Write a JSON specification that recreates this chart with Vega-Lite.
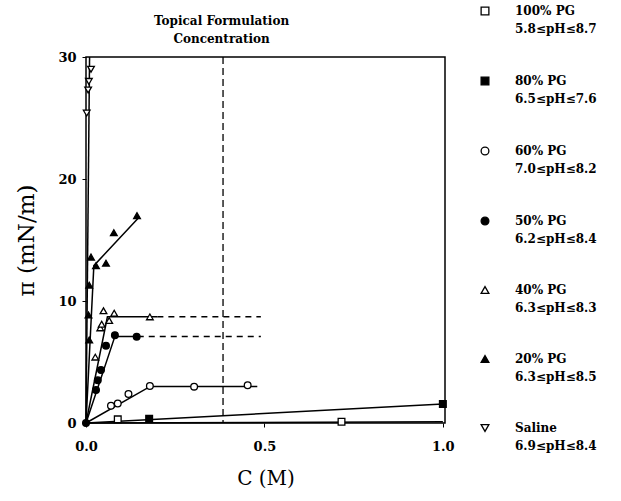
{
  "$schema": "https://vega.github.io/schema/vega-lite/v6.json",
  "width": 359,
  "height": 366,
  "padding": {"left": 15, "top": 5, "right": 5, "bottom": 5},
  "background": "white",
  "config": {
    "view": {"stroke": "black", "strokeWidth": 1.5},
    "font": "DejaVu Serif",
    "style": {"guide-label": {"lineHeight": 18}},
    "axis": {
      "grid": false,
      "domain": false,
      "ticks": true,
      "tickSize": 4,
      "tickColor": "black",
      "labelColor": "black",
      "labelFont": "DejaVu Serif",
      "labelFontWeight": "bold",
      "labelFontSize": 13,
      "labelFlush": false,
      "titleFont": "DejaVu Serif",
      "titleFontWeight": "normal",
      "titleColor": "black"
    },
    "legend": {
      "orient": "none",
      "legendX": 393,
      "legendY": -52,
      "labelFont": "DejaVu Serif",
      "labelFontWeight": "bold",
      "labelFontSize": 12,
      "labelColor": "black",
      "labelLimit": 0,
      "labelOffset": 24,
      "rowPadding": 39,
      "symbolSize": 60,
      "symbolStrokeWidth": 1.3
    }
  },
  "datasets": {
    "pts": [
      {"series": "100% PG, 5.8≤pH≤8.7", "x": 0.089, "y": 0.3},
      {"series": "100% PG, 5.8≤pH≤8.7", "x": 0.716, "y": 0.1},
      {"series": "80% PG, 6.5≤pH≤7.6", "x": 0.177, "y": 0.35},
      {"series": "80% PG, 6.5≤pH≤7.6", "x": 1.0, "y": 1.55},
      {"series": "60% PG, 7.0≤pH≤8.2", "x": 0.07, "y": 1.42},
      {"series": "60% PG, 7.0≤pH≤8.2", "x": 0.089, "y": 1.6},
      {"series": "60% PG, 7.0≤pH≤8.2", "x": 0.119, "y": 2.38},
      {"series": "60% PG, 7.0≤pH≤8.2", "x": 0.179, "y": 3.03},
      {"series": "60% PG, 7.0≤pH≤8.2", "x": 0.303, "y": 2.98},
      {"series": "60% PG, 7.0≤pH≤8.2", "x": 0.453, "y": 3.1},
      {"series": "50% PG, 6.2≤pH≤8.4", "x": 0.0, "y": 0.0},
      {"series": "50% PG, 6.2≤pH≤8.4", "x": 0.028, "y": 2.7},
      {"series": "50% PG, 6.2≤pH≤8.4", "x": 0.033, "y": 3.5},
      {"series": "50% PG, 6.2≤pH≤8.4", "x": 0.042, "y": 4.34},
      {"series": "50% PG, 6.2≤pH≤8.4", "x": 0.056, "y": 6.34},
      {"series": "50% PG, 6.2≤pH≤8.4", "x": 0.081, "y": 7.2},
      {"series": "50% PG, 6.2≤pH≤8.4", "x": 0.142, "y": 7.07},
      {"series": "40% PG, 6.3≤pH≤8.3", "x": 0.026, "y": 5.4},
      {"series": "40% PG, 6.3≤pH≤8.3", "x": 0.04, "y": 7.8},
      {"series": "40% PG, 6.3≤pH≤8.3", "x": 0.044, "y": 8.1},
      {"series": "40% PG, 6.3≤pH≤8.3", "x": 0.049, "y": 9.2},
      {"series": "40% PG, 6.3≤pH≤8.3", "x": 0.065, "y": 8.4},
      {"series": "40% PG, 6.3≤pH≤8.3", "x": 0.079, "y": 9.0},
      {"series": "40% PG, 6.3≤pH≤8.3", "x": 0.179, "y": 8.7},
      {"series": "20% PG, 6.3≤pH≤8.5", "x": 0.009, "y": 6.8},
      {"series": "20% PG, 6.3≤pH≤8.5", "x": 0.007, "y": 8.85},
      {"series": "20% PG, 6.3≤pH≤8.5", "x": 0.009, "y": 11.3},
      {"series": "20% PG, 6.3≤pH≤8.5", "x": 0.014, "y": 13.6},
      {"series": "20% PG, 6.3≤pH≤8.5", "x": 0.028, "y": 12.9},
      {"series": "20% PG, 6.3≤pH≤8.5", "x": 0.056, "y": 13.1},
      {"series": "20% PG, 6.3≤pH≤8.5", "x": 0.078, "y": 15.6},
      {"series": "20% PG, 6.3≤pH≤8.5", "x": 0.143, "y": 17.0},
      {"series": "Saline, 6.9≤pH≤8.4", "x": 0.014, "y": 29.0},
      {"series": "Saline, 6.9≤pH≤8.4", "x": 0.008, "y": 28.0},
      {"series": "Saline, 6.9≤pH≤8.4", "x": 0.006, "y": 27.3},
      {"series": "Saline, 6.9≤pH≤8.4", "x": 0.002, "y": 25.4}
    ],
    "fits": [
      {"seg": "sal", "dash": "solid", "x": 0.0, "y": 0.0},
      {"seg": "sal", "dash": "solid", "x": 0.01, "y": 30.0},
      {"seg": "p20", "dash": "solid", "x": 0.0, "y": 0.0},
      {"seg": "p20", "dash": "solid", "x": 0.022, "y": 12.9},
      {"seg": "p20", "dash": "solid", "x": 0.15, "y": 16.9},
      {"seg": "p40", "dash": "solid", "x": 0.0, "y": 0.0},
      {"seg": "p40", "dash": "solid", "x": 0.06, "y": 8.7},
      {"seg": "p40", "dash": "solid", "x": 0.2, "y": 8.7},
      {"seg": "p40d", "dash": "dashed", "x": 0.2, "y": 8.7},
      {"seg": "p40d", "dash": "dashed", "x": 0.49, "y": 8.7},
      {"seg": "p50", "dash": "solid", "x": 0.0, "y": 0.0},
      {"seg": "p50", "dash": "solid", "x": 0.081, "y": 7.1},
      {"seg": "p50", "dash": "solid", "x": 0.145, "y": 7.1},
      {"seg": "p50d", "dash": "dashed", "x": 0.145, "y": 7.1},
      {"seg": "p50d", "dash": "dashed", "x": 0.49, "y": 7.1},
      {"seg": "p60", "dash": "solid", "x": 0.0, "y": 0.0},
      {"seg": "p60", "dash": "solid", "x": 0.18, "y": 3.0},
      {"seg": "p60", "dash": "solid", "x": 0.48, "y": 3.0},
      {"seg": "p80", "dash": "solid", "x": 0.0, "y": 0.0},
      {"seg": "p80", "dash": "solid", "x": 1.0, "y": 1.55},
      {"seg": "p100", "dash": "solid", "x": 0.0, "y": 0.0},
      {"seg": "p100", "dash": "solid", "x": 1.0, "y": 0.1}
    ],
    "ref": [{"x": 0.384}],
    "note": [{"x": 0.38, "y": 30, "t": "Topical Formulation|Concentration"}]
  },
  "layer": [
    {
      "data": {"name": "ref"},
      "mark": {"type": "rule", "color": "black", "strokeWidth": 1.3, "strokeDash": [7, 4]},
      "encoding": {
        "x": {"field": "x", "type": "quantitative", "scale": {"domain": [0, 1.006], "nice": false}}
      }
    },
    {
      "data": {"name": "fits"},
      "transform": [{"filter": "datum.dash == 'solid'"}],
      "mark": {"type": "line", "color": "black", "strokeWidth": 1.5},
      "encoding": {
        "x": {"field": "x", "type": "quantitative"},
        "y": {"field": "y", "type": "quantitative"},
        "detail": {"field": "seg"}
      }
    },
    {
      "data": {"name": "fits"},
      "transform": [{"filter": "datum.dash == 'dashed'"}],
      "mark": {"type": "line", "color": "black", "strokeWidth": 1.5, "strokeDash": [6, 5]},
      "encoding": {
        "x": {"field": "x", "type": "quantitative"},
        "y": {"field": "y", "type": "quantitative"},
        "detail": {"field": "seg"}
      }
    },
    {
      "data": {"name": "pts"},
      "mark": {"type": "point", "stroke": "black", "strokeWidth": 1.3, "size": 45, "opacity": 1, "fillOpacity": 1},
      "encoding": {
        "x": {
          "field": "x", "type": "quantitative",
          "scale": {"domain": [0, 1.006], "nice": false},
          "axis": {"values": [0, 0.5, 1], "format": ".1f", "title": "C (M)", "titleFontSize": 20, "labelPadding": 13, "titlePadding": 15}
        },
        "y": {
          "field": "y", "type": "quantitative",
          "scale": {"domain": [0, 30], "nice": false},
          "axis": {"values": [0, 10, 20, 30], "title": "π (mN/m)", "titleFontSize": 23, "labelPadding": 6, "titlePadding": 19}
        },
        "shape": {
          "field": "series", "type": "nominal", "title": null,
          "scale": {
            "domain": ["100% PG, 5.8≤pH≤8.7", "80% PG, 6.5≤pH≤7.6", "60% PG, 7.0≤pH≤8.2", "50% PG, 6.2≤pH≤8.4", "40% PG, 6.3≤pH≤8.3", "20% PG, 6.3≤pH≤8.5", "Saline, 6.9≤pH≤8.4"],
            "range": ["square", "square", "circle", "circle", "triangle-up", "triangle-up", "triangle-down"]
          },
          "legend": {"labelExpr": "split(datum.label, ', ')"}
        },
        "fill": {
          "field": "series", "type": "nominal", "title": null,
          "scale": {
            "domain": ["100% PG, 5.8≤pH≤8.7", "80% PG, 6.5≤pH≤7.6", "60% PG, 7.0≤pH≤8.2", "50% PG, 6.2≤pH≤8.4", "40% PG, 6.3≤pH≤8.3", "20% PG, 6.3≤pH≤8.5", "Saline, 6.9≤pH≤8.4"],
            "range": ["white", "black", "white", "black", "white", "black", "white"]
          },
          "legend": {"labelExpr": "split(datum.label, ', ')"}
        }
      }
    },
    {
      "data": {"name": "note"},
      "mark": {"type": "text", "font": "DejaVu Serif", "fontWeight": "bold", "fontSize": 12, "align": "center", "baseline": "top", "lineBreak": "|", "lineHeight": 18, "dy": -41, "color": "black"},
      "encoding": {
        "x": {"field": "x", "type": "quantitative"},
        "y": {"field": "y", "type": "quantitative"},
        "text": {"field": "t"}
      }
    }
  ]
}
